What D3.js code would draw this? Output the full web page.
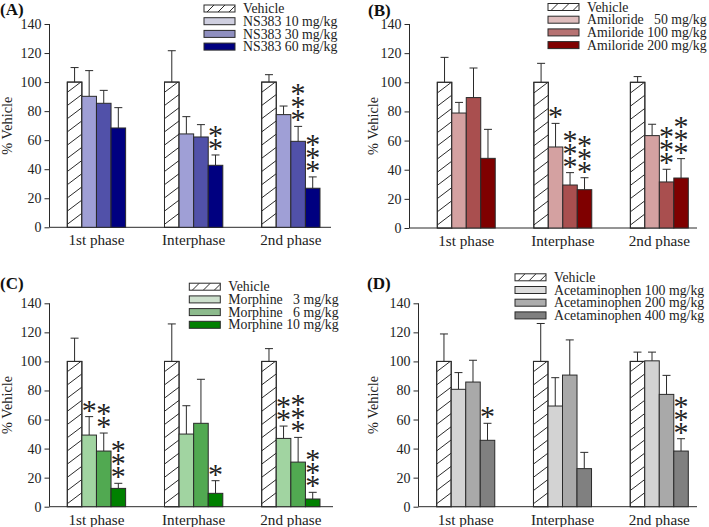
<!DOCTYPE html>
<html><head><meta charset="utf-8">
<script src="https://cdn.jsdelivr.net/npm/d3@7/dist/d3.min.js"></script>
<style>
html,body{margin:0;padding:0;background:#fff;}
svg{display:block;}
text{font-family:"Liberation Serif","Times New Roman",serif;}
</style></head>
<body>
<svg id="chart" width="709" height="527"></svg>
<script>
// ---------- data ----------
const categories = ["1st phase", "Interphase", "2nd phase"];
const yTicks = [0, 20, 40, 60, 80, 100, 120, 140];
const yLabel = "% Vehicle";

// Panel A: NS383
const nsLabels = ["Vehicle", "NS383 10 mg/kg", "NS383 30 mg/kg", "NS383 60 mg/kg"];
const nsMeans = [[100, 90.2, 85.4, 68.4], [100, 64.3, 62.2, 42.7], [100, 77.6, 59.2, 26.9]];
const nsSem   = [[10, 17.7, 8.9, 14], [21.6, 11.9, 8.5, 7.1], [5.1, 5.9, 10.3, 7.8]];
const nsStars = [[0, 0, 0, 0], [0, 0, 0, 2], [0, 0, 3, 3]];

// Panel B: Amiloride
const amLabels = ["Vehicle", "Amiloride   50 mg/kg", "Amiloride 100 mg/kg", "Amiloride 200 mg/kg"];
const amMeans = [[100, 78.9, 89.5, 47.8], [100, 55.6, 29.5, 26.3], [100, 63.4, 31.6, 34.3]];
const amSem   = [[17.1, 7.3, 20.3, 19.9], [13, 16.2, 8.5, 8.2], [3.9, 7.8, 8.7, 13.3]];
const amStars = [[0, 0, 0, 0], [0, 1, 3, 3], [0, 0, 3, 3]];

// Panel C: Morphine
const moLabels = ["Vehicle", "Morphine   3 mg/kg", "Morphine   6 mg/kg", "Morphine 10 mg/kg"];
const moMeans = [[100, 49.3, 38.3, 12.6], [100, 50, 57.4, 9.2], [100, 47, 30.7, 5.3]];
const moSem   = [[16, 12.7, 12.4, 3.5], [25.8, 19.5, 30.3, 8.7], [8.8, 8.5, 17, 4.6]];
const moStars = [[0, 1, 2, 3], [0, 0, 0, 1], [0, 2, 3, 3]];

// Panel D: Acetaminophen
const acLabels = ["Vehicle", "Acetaminophen 100 mg/kg", "Acetaminophen 200 mg/kg", "Acetaminophen 400 mg/kg"];
const acMeans = [[100, 80.8, 85.8, 45.7], [100, 69.3, 90.6, 26.2], [100, 100.4, 77.3, 38.3]];
const acSem   = [[18.9, 11.5, 15, 11.7], [26.1, 19.5, 24.2, 11.2], [6.4, 6, 13.1, 8.5]];
const acStars = [[0, 0, 0, 1], [0, 0, 0, 0], [0, 0, 0, 3]];

// ---------- styles / layout ----------
const panels = [
  {tag:"(A)", tagX:0, tagY:15, labels:nsLabels, means:nsMeans, sem:nsSem, stars:nsStars,
   bar:["#ffffff","#9f9fd6","#5151a9","#000080"], leg:["#ffffff","#cfcfe0","#8f8fc0","#000080"],
   axisX:49.5, right:331, yTop:24, yBot:227.3, bandL:67.3, bandR:320, ylabX:12,
   legX:204, legY:8.5},
  {tag:"(B)", tagX:368, tagY:16, labels:amLabels, means:amMeans, sem:amSem, stars:amStars,
   bar:["#ffffff","#d4a1a1","#a94f4f","#7f0000"], leg:["#ffffff","#dfbdbd","#b67272","#800000"],
   axisX:409.5, right:697, yTop:24, yBot:228, bandL:437.3, bandR:688.3, ylabX:378,
   legX:548, legY:7},
  {tag:"(C)", tagX:0, tagY:289, labels:moLabels, means:moMeans, sem:moSem, stars:moStars,
   bar:["#ffffff","#a1d4a1","#51a951","#008000"], leg:["#ffffff","#cde0cd","#8cba8c","#008000"],
   axisX:49.5, right:333, yTop:303.3, yBot:506.7, bandL:67.3, bandR:320, ylabX:12,
   legX:189.3, legY:286.7},
  {tag:"(D)", tagX:367, tagY:289, labels:acLabels, means:acMeans, sem:acSem, stars:acStars,
   bar:["#ffffff","#d3d3d3","#a9a9a9","#808080"], leg:["#ffffff","#dcdcdc","#adadad","#7f7f7f"],
   axisX:418.5, right:697, yTop:303.3, yBot:506.7, bandL:436.7, bandR:688.3, ylabX:378,
   legX:515, legY:277.3}
];

const svg = d3.select("#chart");
const ink = "#2a2a2a";
let clipId = 0;

panels.forEach(p => {
  const g = svg.append("g");
  const y = d3.scaleLinear().domain([0, 140]).range([p.yBot, p.yTop]);
  const x0 = d3.scaleBand().domain(categories).range([p.bandL, p.bandR]).paddingInner(0.4).paddingOuter(0);
  const x1 = d3.scaleBand().domain(d3.range(4)).range([0, x0.bandwidth()]);

  // y axis
  const ax = g.append("g").attr("transform", `translate(${p.axisX},0)`)
    .call(d3.axisLeft(y).tickValues(yTicks).tickSize(5).tickSizeOuter(0).tickPadding(3));
  ax.select(".domain").remove();
  ax.selectAll(".tick line").attr("stroke", ink);
  ax.selectAll(".tick text").attr("font-family", "Liberation Serif").attr("font-size", 14).attr("fill", "#222");
  g.append("line").attr("x1", p.axisX).attr("x2", p.axisX).attr("y1", y(0)).attr("y2", y(140))
    .attr("stroke", ink).attr("stroke-width", 1);
  g.append("line").attr("x1", p.axisX).attr("x2", p.right).attr("y1", y(0)).attr("y2", y(0))
    .attr("stroke", ink).attr("stroke-width", 1);

  // y label
  g.append("text").attr("transform", `translate(${p.ylabX},${(p.yTop + p.yBot) / 2}) rotate(-90)`)
    .attr("text-anchor", "middle").attr("font-size", 14.3).attr("fill", "#222").text(yLabel);

  // category labels
  g.selectAll(".cat").data(categories).join("text")
    .attr("x", d => x0(d) + x0.bandwidth() / 2).attr("y", y(0) + 18)
    .attr("text-anchor", "middle").attr("font-size", 15.2).attr("fill", "#222").text(d => d);

  // bars
  categories.forEach((c, ci) => {
    const cg = g.append("g").attr("transform", `translate(${x0(c)},0)`);
    p.means[ci].forEach((m, si) => {
      const bx = x1(si), bw = x1.bandwidth();
      const top = y(m), bot = y(0);
      // error bar
      const et = y(m + p.sem[ci][si]);
      const cx = bx + bw / 2;
      cg.append("line").attr("x1", cx).attr("x2", cx).attr("y1", top).attr("y2", et).attr("stroke", ink);
      cg.append("line").attr("x1", cx - 4).attr("x2", cx + 4).attr("y1", et).attr("y2", et).attr("stroke", ink);
      cg.append("rect").attr("x", bx).attr("y", top).attr("width", bw).attr("height", bot - top)
        .attr("fill", p.bar[si]).attr("stroke", ink).attr("stroke-width", 1);
      if (si === 0) {
        const id = "clip" + (clipId++);
        cg.append("clipPath").attr("id", id).append("rect")
          .attr("x", bx).attr("y", top).attr("width", bw).attr("height", bot - top);
        const hg = cg.append("g").attr("clip-path", `url(#${id})`);
        for (let k = 0; k < 20; k++) {
          const ys = bot - 3 - k * 13.2;
          hg.append("line").attr("x1", bx).attr("x2", bx + bw).attr("y1", ys).attr("y2", ys - 11)
            .attr("stroke", ink).attr("stroke-width", 1);
        }
        cg.append("rect").attr("x", bx).attr("y", top).attr("width", bw).attr("height", bot - top)
          .attr("fill", "none").attr("stroke", ink).attr("stroke-width", 1);
      }
      // stars (one text element per stack)
      const n = p.stars[ci][si];
      if (n > 0) {
        const st = cg.append("text").attr("text-anchor", "middle").attr("font-size", 30).attr("fill", "#222");
        for (let k = 0; k < n; k++) {
          st.append("tspan").attr("x", cx).attr("y", et + 3 - k * 13).text("*");
        }
      }
    });
  });

  // legend
  const lg = g.append("g");
  p.labels.forEach((lab, i) => {
    const cy = p.legY + i * 12.7;
    lg.append("rect").attr("x", p.legX).attr("y", cy - 3.5).attr("width", 31).attr("height", 7)
      .attr("fill", p.leg[i]).attr("stroke", ink).attr("stroke-width", 1);
    if (i === 0) {
      const id = "clip" + (clipId++);
      lg.append("clipPath").attr("id", id).append("rect")
        .attr("x", p.legX).attr("y", cy - 3.5).attr("width", 31).attr("height", 7);
      const hg = lg.append("g").attr("clip-path", `url(#${id})`);
      [3, 14, 25].forEach(o => {
        hg.append("line").attr("x1", p.legX + o).attr("x2", p.legX + o + 7)
          .attr("y1", cy + 3.5).attr("y2", cy - 3.5).attr("stroke", ink);
      });
    }
    lg.append("text").attr("x", p.legX + 39).attr("y", cy + 4.6)
      .attr("font-size", 13.8).attr("fill", "#222").style("white-space", "pre").text(lab);
  });

  // panel tag
  g.append("text").attr("x", p.tagX).attr("y", p.tagY).attr("font-family", "Liberation Sans")
    .attr("font-weight", "bold").attr("font-size", 17).attr("fill", "#111").text(p.tag);
});
</script>
</body></html>
